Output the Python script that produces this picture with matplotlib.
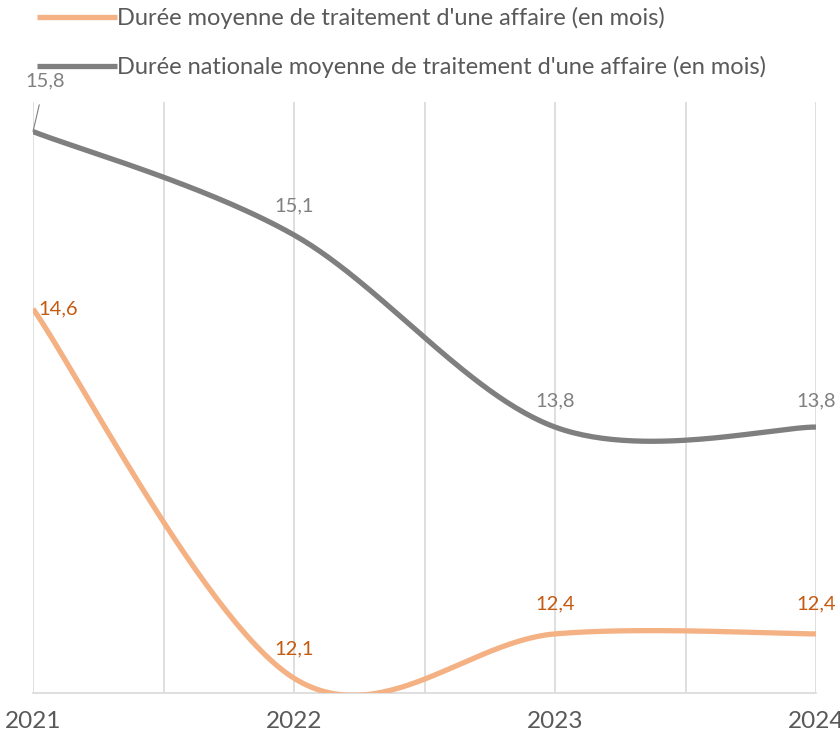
import numpy as np
import matplotlib
matplotlib.use("Agg")
import matplotlib.pyplot as plt

plt.rcParams['font.family'] = ['Lato', 'DejaVu Sans']

annees = [2021, 2022, 2023, 2024]
duree_locale = [14.6, 12.1, 12.4, 12.4]
duree_nationale = [15.8, 15.1, 13.8, 13.8]
lbl_locale = "Durée moyenne de traitement d'une affaire (en mois)"
lbl_nationale = "Durée nationale moyenne de traitement d'une affaire (en mois)"

c_orange = '#F4B183'
c_orange_txt = '#C55A11'
c_gris = '#7F7F7F'
c_gris_txt = '#808080'


def lissage(x, y, n=60):
    # courbe lissée type Excel (Bezier, points de controle a 1/6)
    x = np.asarray(x, float)
    y = np.asarray(y, float)
    px = np.concatenate([[x[0]], x, [x[-1]]])
    py = np.concatenate([[y[0]], y, [y[-1]]])
    xs, ys = [], []
    t = np.linspace(0, 1, n)
    for i in range(len(x) - 1):
        p0 = np.array([px[i + 1], py[i + 1]])
        p3 = np.array([px[i + 2], py[i + 2]])
        c1 = p0 + (np.array([px[i + 2], py[i + 2]]) - np.array([px[i], py[i]])) / 6
        c2 = p3 - (np.array([px[i + 3], py[i + 3]]) - np.array([px[i + 1], py[i + 1]])) / 6
        b = ((1 - t) ** 3)[:, None] * p0 + (3 * (1 - t) ** 2 * t)[:, None] * c1 \
            + (3 * (1 - t) * t ** 2)[:, None] * c2 + (t ** 3)[:, None] * p3
        xs.append(b[:, 0])
        ys.append(b[:, 1])
    return np.concatenate(xs), np.concatenate(ys)


fig = plt.figure(figsize=(8.4, 7.34), dpi=100)
ax = fig.add_axes([33 / 840, 41 / 734, 783 / 840, 591 / 734])

xl, yl = lissage(annees, duree_locale)
xn, yn = lissage(annees, duree_nationale)
ax.plot(xl, yl, color=c_orange, lw=3.8, solid_capstyle='butt', label=lbl_locale, zorder=3)
ax.plot(xn, yn, color=c_gris, lw=3.8, solid_capstyle='butt', label=lbl_nationale, zorder=3)

ax.set_xlim(2021, 2024)
ax.set_ylim(12, 16)
ax.set_xticks(annees)
ax.set_xticklabels([str(a) for a in annees])
ax.set_xticks([2021.5, 2022.5, 2023.5], minor=True)
ax.set_yticks([])
ax.grid(True, axis='x', which='both', color='#D9D9D9', lw=1.2)
for s in ['top', 'right', 'left']:
    ax.spines[s].set_visible(False)
ax.spines['bottom'].set_color('#D9D9D9')
ax.spines['bottom'].set_linewidth(1.2)
ax.tick_params(axis='x', which='both', length=0, pad=13, labelsize=17.5, labelcolor='#595959')

# etiquettes de donnees
fs = 14.5
ax.annotate('15,8', xy=(annees[0], duree_nationale[0]), xytext=(annees[0] + 0.045, 16.14),
            ha='center', va='center', color=c_gris_txt, fontsize=fs, annotation_clip=False,
            arrowprops=dict(arrowstyle='-', color=c_gris_txt, lw=0.8, shrinkA=9, shrinkB=0))
ax.text(annees[0] + 0.095, duree_locale[0], '14,6', ha='center', va='center',
        color=c_orange_txt, fontsize=fs)
ax.text(annees[1], duree_nationale[1] + 0.2, '15,1', ha='center', va='center',
        color=c_gris_txt, fontsize=fs)
for xa, v in zip(annees[2:], duree_nationale[2:]):
    ax.text(xa, v + 0.18, '13,8', ha='center', va='center', color=c_gris_txt, fontsize=fs,
            clip_on=False)
ax.text(annees[1], duree_locale[1] + 0.2, '12,1', ha='center', va='center',
        color=c_orange_txt, fontsize=fs)
for xa, v in zip(annees[2:], duree_locale[2:]):
    ax.text(xa, v + 0.2, '12,4', ha='center', va='center', color=c_orange_txt, fontsize=fs,
            clip_on=False)

h, l = ax.get_legend_handles_labels()
leg = fig.legend(h, l, loc='upper left', bbox_to_anchor=(37 / 840, 1 - 7 / 734), frameon=False,
                 fontsize=17, handlelength=3.4, handletextpad=0.0, labelspacing=1.15,
                 labelcolor='#595959', borderaxespad=0, borderpad=0)

fig.savefig('out.png', dpi=100)
